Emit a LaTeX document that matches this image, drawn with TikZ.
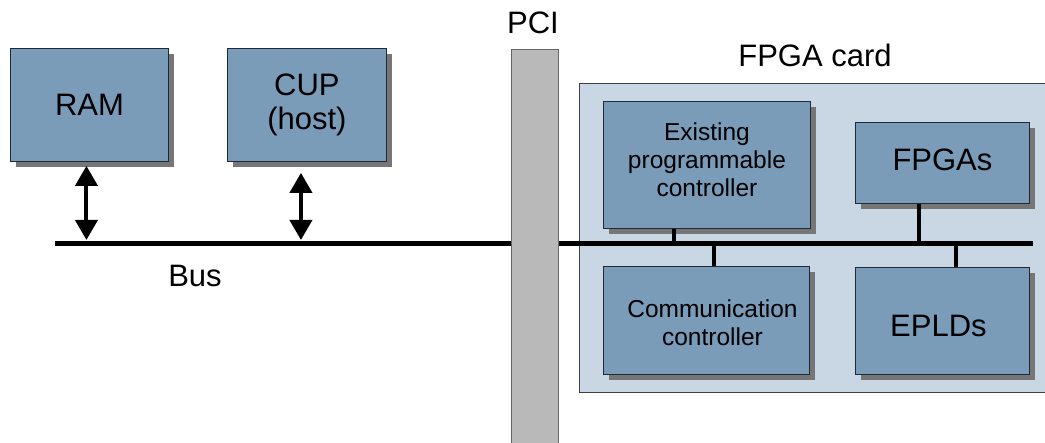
\documentclass[tikz,border=0pt]{standalone}
\usepackage{fontspec}
\setmainfont{Liberation Sans}
\usetikzlibrary{arrows.meta,shadows}
\definecolor{boxblue}{HTML}{7A9CB9}
\definecolor{cardblue}{HTML}{C9D7E4}
\definecolor{shadowgray}{HTML}{767676}
\definecolor{pcigray}{HTML}{B9B9B9}
\definecolor{edgeblue}{HTML}{1E2A36}
\begin{document}
\begin{tikzpicture}[x=1pt,y=-1pt,
  unit/.style={draw=edgeblue, line width=0.9pt, fill=boxblue, inner sep=0pt,
    align=center, anchor=north west,
    drop shadow={shadow xshift=6pt, shadow yshift=-6pt, fill=shadowgray, opacity=1}},
  big/.style={font=\fontsize{31}{34}\selectfont},
  small/.style={font=\fontsize{24.5}{28}\selectfont},
  caption/.style={font=\fontsize{31}{36}\selectfont, inner sep=0pt},
  inside/.style={label={[align=center, inner sep=0pt, #1]center:}},
  bus/.style={line width=5pt},
  tap/.style={line width=4pt},
  link/.style={line width=4pt,
    {Triangle[width=22pt,length=20pt]}-{Triangle[width=22pt,length=20pt]}},
]
\useasboundingbox (0,0) rectangle (1045,443);

% FPGA card
\node[draw=black!75, line width=0.8pt, fill=cardblue, inner sep=0pt,
  anchor=north west, minimum width=480pt, minimum height=309pt] (card) at (579,83) {};
\node[caption] (cardlabel) at (815,55) {FPGA card};

% host side
\node[unit, big, minimum width=158pt, minimum height=113pt] (ram) at (10,48) {RAM};
\node[unit, big, minimum width=159pt, minimum height=113pt] (cup) at (227,48) {CUP\\(host)};

% card components (text placed as labels to fine-tune its position in the box)
\node[unit, minimum width=207pt, minimum height=127pt,
  label={[small, align=center, inner sep=0pt, yshift=5pt]center:Existing\\programmable\\controller}]
  (ctrl) at (603,101) {};
\node[unit, minimum width=174pt, minimum height=81pt,
  label={[big, inner sep=0pt, yshift=3pt]center:FPGAs}] (fpga) at (855,122) {};
\node[unit, minimum width=206pt, minimum height=108pt,
  label={[small, align=center, inner sep=0pt, xshift=6pt, yshift=-2pt]center:Communication\\controller}]
  (comm) at (603,266) {};
\node[unit, minimum width=174pt, minimum height=107pt,
  label={[big, inner sep=0pt, xshift=-4pt, yshift=-5pt]center:EPLDs}] (epld) at (855,267) {};

% system bus
\coordinate (busL) at (55,244);
\coordinate (busR) at (1033,244);
\draw[bus] (busL) -- (busR);
\node[caption] (buslabel) at (195,276) {Bus};

% host connections
\draw[link] ([xshift=-3pt,yshift=-4pt]ram.south) -- ([xshift=-3pt,yshift=4pt]ram.south |- busL);
\draw[link] ([xshift=-6pt,yshift=-11pt]cup.south) -- ([xshift=-6pt,yshift=4pt]cup.south |- busL);

% card connections
\draw[tap] ([xshift=-33pt]ctrl.south) -- ([xshift=-33pt]ctrl.south |- busL);
\draw[tap] ([xshift=-23pt]fpga.south) -- ([xshift=-23pt]fpga.south |- busL);
\draw[tap] ([xshift=8pt]comm.north) -- ([xshift=8pt]comm.north |- busL);
\draw[tap] ([xshift=14pt]epld.north) -- ([xshift=14pt]epld.north |- busL);

% PCI slot
\node[draw=black!60, line width=0.8pt, fill=pcigray, inner sep=0pt,
  anchor=north west, minimum width=47pt, minimum height=420pt] (pci) at (510.5,49) {};
\node[caption] (pcilabel) at (533,23) {PCI};
\end{tikzpicture}
\end{document}
